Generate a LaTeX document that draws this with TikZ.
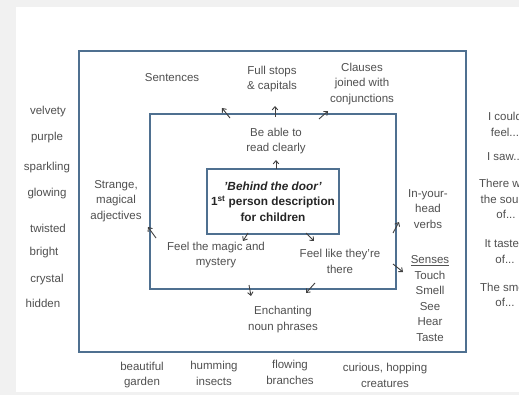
\documentclass[tikz,border=0pt]{standalone}
\usepackage{fontspec}
\setmainfont{Liberation Sans}
\usetikzlibrary{arrows.meta}
\definecolor{boxblue}{HTML}{4F7090}
\definecolor{inkgray}{HTML}{505050}
\definecolor{pagegray}{HTML}{F1F1F1}
\tikzset{
  frame/.style={draw=boxblue, line width=2pt, fill=none, inner sep=0pt},
  hand/.style={text=inkgray, font=\fontsize{11.5}{15.5}\selectfont, align=center, inner sep=0pt},
  title/.style={text=black!85, font=\fontsize{11.8}{15.5}\selectfont\bfseries, align=center, inner sep=0pt},
  arr/.style={draw=black!75, line width=0.9pt, -{Straight Barb[length=3.2pt,width=5.5pt]}}
}
\begin{document}
\begin{tikzpicture}[x=1pt,y=-1pt]
\useasboundingbox (0,0) rectangle (519,395);
\clip (0,0) rectangle (519,395);
\fill[pagegray] (0,0) rectangle (519,395);
\fill[white] (16,7) rectangle (519,392);
% frames
\node[frame, minimum width=387pt, minimum height=301pt] (outer) at (272.5,201.5) {};
\node[frame, minimum width=246pt, minimum height=175pt] (middle) at (273,201.5) {};
\node[frame, minimum width=132pt, minimum height=65pt] (inner) at (273,201.5) {};
\node[title] (main) at (273,201.5) {\textit{'Behind the door'}\\1\textsuperscript{st} person description\\for children};
% labels inside
\node[hand] (sent) at (172,78) {Sentences};
\node[hand] (full) at (272,79) {Full stops\\\& capitals};
\node[hand] (clauses) at (362,84) {Clauses\\joined with\\conjunctions};
\node[hand] (read) at (276,141) {Be able to\\read clearly};
\node[hand] (strange) at (116,201) {Strange,\\magical\\adjectives};
\node[hand] (magic) at (216,255) {Feel the magic and\\mystery};
\node[hand] (there) at (340,261.5) {Feel like they're\\there};
\node[hand] (enchant) at (283,319.5) {Enchanting\\noun phrases};
\node[hand] (verbs) at (428,209) {In-your-\\head\\verbs};
\node[hand] (senses) at (430,298.5) {\underline{Senses}\\Touch\\Smell\\See\\Hear\\Taste};
% left column
\node[hand] (w1) at (48,112) {velvety};
\node[hand] (w2) at (47,138) {purple};
\node[hand] (w3) at (47,168) {sparkling};
\node[hand] (w4) at (47,194) {glowing};
\node[hand] (w5) at (48,228) {twisted};
\node[hand] (w6) at (44,253) {bright};
\node[hand] (w7) at (47,280) {crystal};
\node[hand] (w8) at (43,303) {hidden};
% bottom row
\node[hand] (b1) at (142,375) {beautiful\\garden};
\node[hand] (b2) at (214,373.5) {humming\\insects};
\node[hand] (b3) at (290,372.5) {flowing\\branches};
\node[hand] (b4) at (385,375.5) {curious, hopping\\creatures};
% right column (cut by the page edge, as in the reference)
\node[hand] (r1) at (505,124.5) {I could\\feel...};
\node[hand] (r2) at (505,157) {I saw...};
\node[hand] (r3) at (506,199) {There was\\the sound\\of...};
\node[hand] (r4) at (505,251.5) {It tasted\\of...};
\node[hand] (r5) at (505,295) {The smell\\of...};
% arrow ends
\coordinate (a1s) at (230,118); \coordinate (a1e) at (222,108);
\coordinate (a2s) at (275,117); \coordinate (a2e) at (275,106);
\coordinate (a3s) at (319,119); \coordinate (a3e) at (328,111);
\coordinate (a4s) at (276,169); \coordinate (a4e) at (276,160);
\coordinate (a5s) at (248,233); \coordinate (a5e) at (243,241);
\coordinate (a6s) at (306,233); \coordinate (a6e) at (314,241);
\coordinate (a7s) at (156,238); \coordinate (a7e) at (148,227);
\coordinate (a8s) at (393,233); \coordinate (a8e) at (399,222);
\coordinate (a9s) at (393,264); \coordinate (a9e) at (403,272);
\coordinate (a10s) at (249,285); \coordinate (a10e) at (251,296);
\coordinate (a11s) at (315,283); \coordinate (a11e) at (306,293);
\foreach \i in {1,...,11} {\draw[arr] (a\i s) -- (a\i e);}
\end{tikzpicture}
\end{document}
